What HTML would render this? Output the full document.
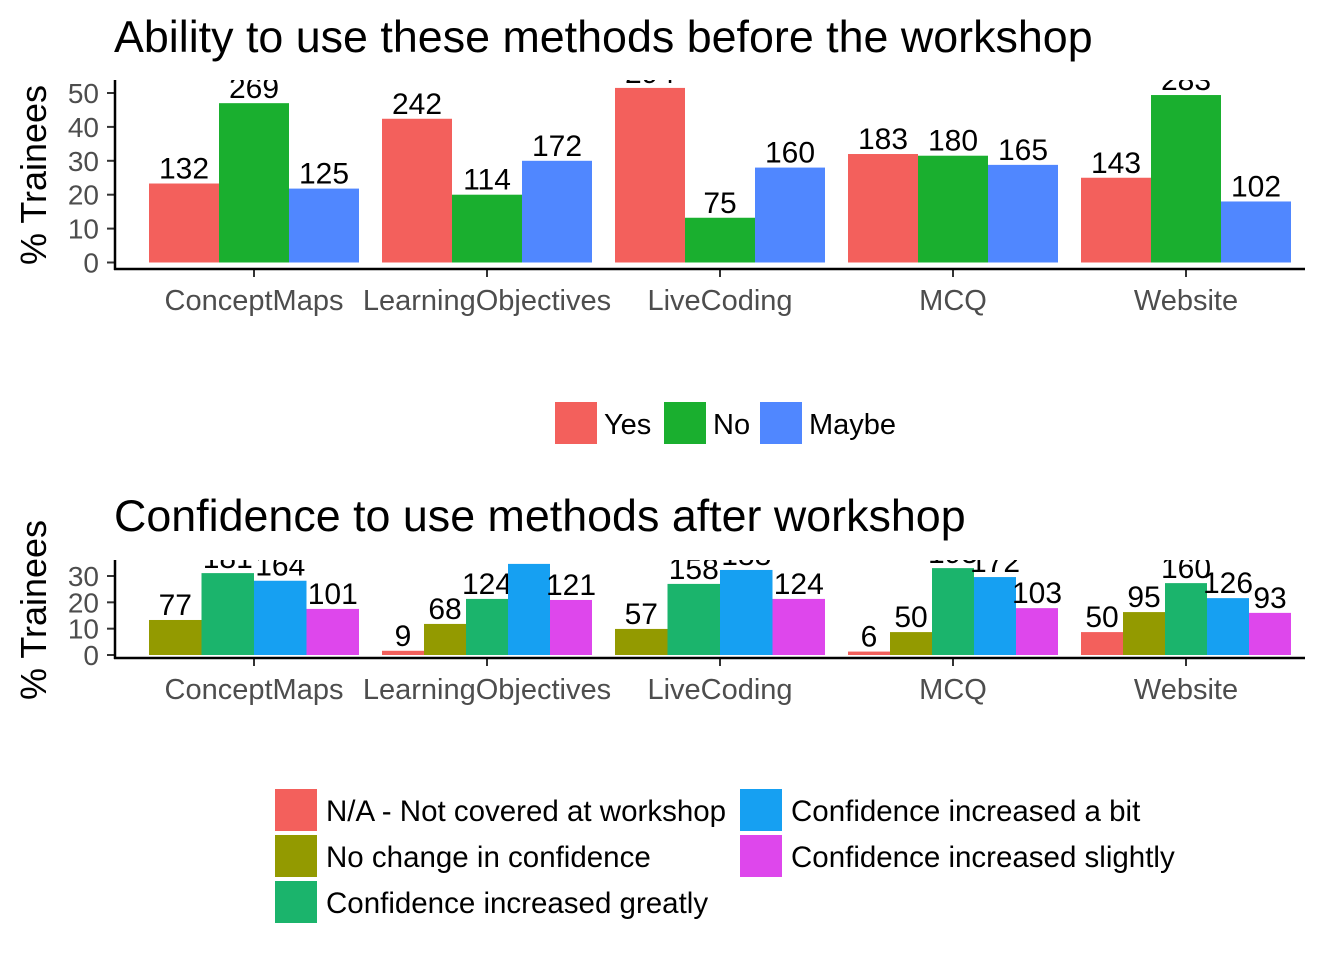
<!DOCTYPE html>
<html><head><meta charset="utf-8"><style>
body{margin:0;background:#fff}
svg{display:block;font-family:"Liberation Sans",Arial,sans-serif}
</style></head><body>
<svg id="chart" width="1344" height="960" viewBox="0 0 1344 960">
<defs>
<clipPath id="clipTop"><rect x="115" y="80" width="1200" height="200"/></clipPath>
<clipPath id="clipBot"><rect x="115" y="560" width="1200" height="110"/></clipPath>
</defs>
<text x="114" y="52" font-size="44.8" fill="#000">Ability to use these methods before the workshop</text>
<text x="114" y="531" font-size="44.8" fill="#000">Confidence to use methods after workshop</text>
<text transform="translate(46,175) rotate(-90)" text-anchor="middle" font-size="36">% Trainees</text>
<text transform="translate(46,610) rotate(-90)" text-anchor="middle" font-size="36">% Trainees</text>
<g id="top"></g>
<g id="bot"></g>
<g id="legends"></g>
</svg>
<script>
const categories=["ConceptMaps","LearningObjectives","LiveCoding","MCQ","Website"];
const topSeries=["Yes","No","Maybe"];
const topColors=["#F3605C","#1AAF2F","#5087FF"];
const topYes=[23.3,42.4,51.5,32,25];
const topNo=[47,20,13.2,31.5,49.4];
const topMaybe=[21.8,30,28,28.8,18];
const topYesN=["132","242","294","183","143"];
const topNoN=["269","114","75","180","283"];
const topMaybeN=["125","172","160","165","102"];
const topTicks=[0,10,20,30,40,50];

const botSeries=["N/A - Not covered at workshop","No change in confidence","Confidence increased greatly","Confidence increased a bit","Confidence increased slightly"];
const botColors=["#F3605C","#939A00","#1BB46C","#16A0F2","#DE47EC"];
const botNA=[null,1.6,null,1.3,8.7];
const botNone=[13.3,11.8,9.9,8.7,16.3];
const botGreatly=[31.1,21.3,27,33,27.3];
const botBit=[28.2,34.6,32.3,29.6,21.6];
const botSlightly=[17.5,20.9,21.3,17.8,16];
const botNAN=[null,"9",null,"6","50"];
const botNoneN=["77","68","57","50","95"];
const botGreatlyN=["181","124","158","195","160"];
const botBitN=["164","204","188","172","126"];
const botSlightlyN=["101","121","124","103","93"];
const botTicks=[0,10,20,30];

const NS="http://www.w3.org/2000/svg";
function mk(tag,attrs,parent,txt){const e=document.createElementNS(NS,tag);for(const k in attrs)e.setAttribute(k,attrs[k]);if(txt!=null)e.textContent=txt;parent.appendChild(e);return e;}
const xCenter=i=>254+i*233;
const groupW=210;

function panel(g,clipId,y0,pxPer,top,bottomAxis,ticks,series,colors,names,vals,labels){
  const y=v=>y0-v*pxPer;
  const bars=mk('g',{'clip-path':'url(#'+clipId+')'},g);
  categories.forEach((c,i)=>{
    const present=vals.map((s,k)=>k).filter(k=>vals[k][i]!=null);
    const w=groupW/present.length;
    present.forEach((k,j)=>{
      const v=vals[k][i];const x=xCenter(i)-groupW/2+j*w;
      const r=mk('rect',{x:x,y:y(v),width:w,height:y0-y(v),fill:colors[k]},bars);
      
      
      const t=mk('text',{x:x+w/2,y:y(v)-5,'text-anchor':'middle','font-size':30,fill:'#000'},bars,labels[k][i]);
      
      
    });
    const tk=mk('line',{x1:xCenter(i),x2:xCenter(i),y1:bottomAxis,y2:bottomAxis+8,stroke:'#333','stroke-width':2},g);
    
    
    const tl=mk('text',{x:xCenter(i),y:bottomAxis+41,'text-anchor':'middle','font-size':29,fill:'#4d4d4d'},g,c);
    
    
  });
  ticks.forEach(t=>{
    mk('line',{x1:107,x2:115,y1:y(t),y2:y(t),stroke:'#333','stroke-width':2},g);
    const l=mk('text',{x:99,y:y(t)+10,'text-anchor':'end','font-size':28,fill:'#4d4d4d'},g,t);
    
    
  });
  mk('line',{x1:115,x2:115,y1:top,y2:bottomAxis+1,stroke:'#000','stroke-width':2.5},g);
  mk('line',{x1:114,x2:1305,y1:bottomAxis,y2:bottomAxis,stroke:'#000','stroke-width':2.5},g);
}
panel(document.getElementById('top'),'clipTop',262.5,3.39,80,269,topTicks,topSeries,topColors,['yes','no','maybe'],[topYes,topNo,topMaybe],[topYesN,topNoN,topMaybeN]);
panel(document.getElementById('bot'),'clipBot',655,2.633,560,658,botTicks,botSeries,botColors,['na','nochange','greatly','bit','slightly'],[botNA,botNone,botGreatly,botBit,botSlightly],[botNAN,botNoneN,botGreatlyN,botBitN,botSlightlyN]);

const lg=document.getElementById('legends');
const topLeg=[[555,604],[664,713],[760,809]];
topSeries.forEach((s,k)=>{
  const r=mk('rect',{x:topLeg[k][0],y:402,width:42,height:42,fill:topColors[k]},lg);
  
  
  const t=mk('text',{x:topLeg[k][1],y:434,'font-size':29},lg,s);
  
  
});
const botLeg=[[275,789],[275,835],[275,881],[740,789],[740,835]];
botSeries.forEach((s,k)=>{
  const [x,yy]=botLeg[k];
  const r=mk('rect',{x:x,y:yy,width:42,height:42,fill:botColors[k]},lg);
  
  
  const t=mk('text',{x:x+51,y:yy+32,'font-size':29.5},lg,s);
  
  
});
</script>
</body></html>
